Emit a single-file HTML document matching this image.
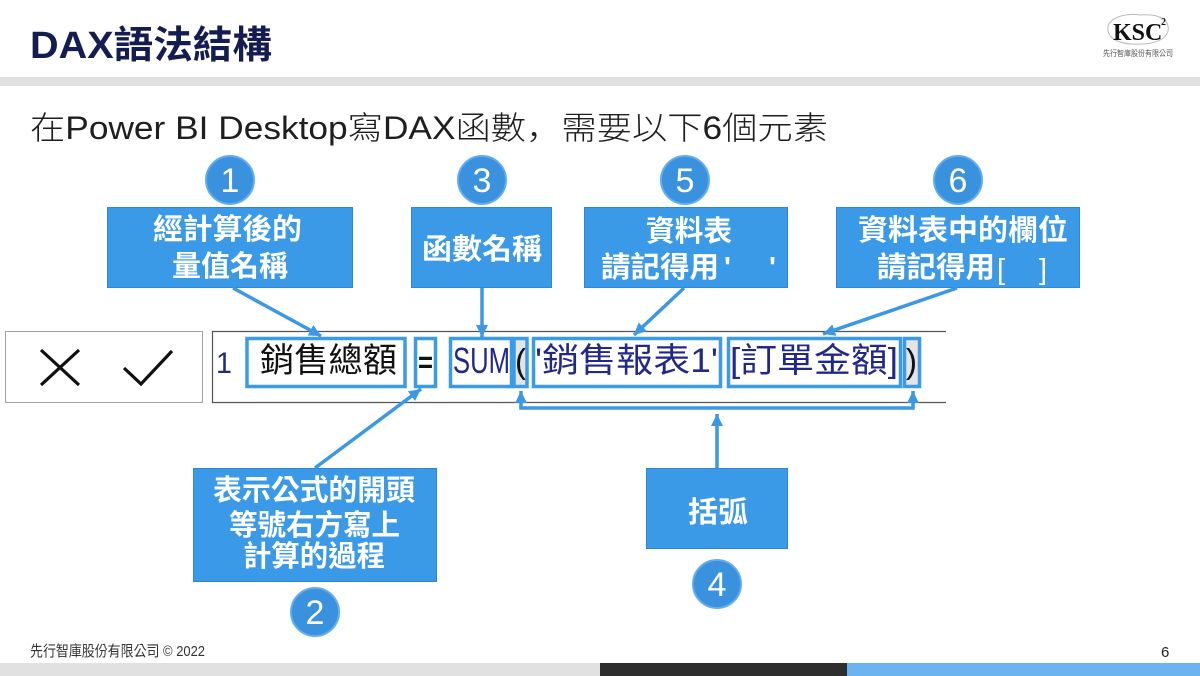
<!DOCTYPE html>
<html>
<head>
<meta charset="utf-8">
<style>
html,body{margin:0;padding:0;background:#fff;}
body{width:1200px;height:676px;overflow:hidden;}
svg{display:block;}
</style>
</head>
<body>
<svg width="1200" height="676" viewBox="0 0 1200 676" xmlns="http://www.w3.org/2000/svg">
<defs>
<marker id="ah" viewBox="0 0 12 12" refX="12" refY="6" markerWidth="12" markerHeight="12" markerUnits="userSpaceOnUse" orient="auto">
<path d="M0,0 L12,6 L0,12 z" fill="#3a98e6"/>
</marker>
</defs>
<rect x="0" y="0" width="1200" height="676" fill="#ffffff"/>

<!-- Header -->
<text x="30" y="58" font-family="Liberation Sans, 'Noto Sans CJK TC', sans-serif" font-size="38" font-weight="bold" fill="#131d52" textLength="242" lengthAdjust="spacingAndGlyphs">DAX語法結構</text>
<rect x="0" y="77" width="1200" height="9" fill="#e1e1e1"/>

<!-- Logo -->
<path d="M1108,26 C1112,16 1128,13 1140,15 C1152,14 1166,16 1168,26 C1170,36 1160,44 1140,44 C1122,45 1106,40 1108,26 z" fill="none" stroke="#bbbbbb" stroke-width="1"/>
<text x="1113" y="40" font-family="Liberation Serif, serif" font-size="24" font-weight="bold" fill="#111">KSC</text>
<text x="1161" y="25" font-family="Liberation Serif, serif" font-size="10" font-weight="bold" fill="#111">2</text>
<text x="1103" y="56" font-family="Liberation Sans, 'Noto Sans CJK TC', sans-serif" font-size="8" fill="#555" textLength="70" lengthAdjust="spacingAndGlyphs">先行智庫股份有限公司</text>

<!-- Subtitle -->
<text x="30" y="139" font-family="Liberation Sans, 'Noto Sans CJK TC', sans-serif" font-size="32" font-weight="300" fill="#1e1e1e" textLength="798" lengthAdjust="spacingAndGlyphs">在Power BI Desktop寫DAX函數<tspan font-family="'Noto Sans CJK JP', sans-serif">，</tspan>需要以下6個元素</text>

<!-- Circles -->
<g font-family="Liberation Sans, sans-serif" font-size="34" fill="#fff" text-anchor="middle">
<circle cx="230" cy="180" r="24" fill="#3a92df" stroke="#62adf0" stroke-width="2"/>
<text x="230" y="192">1</text>
<circle cx="482" cy="180" r="24" fill="#3a92df" stroke="#62adf0" stroke-width="2"/>
<text x="482" y="192">3</text>
<circle cx="685" cy="180" r="24" fill="#3a92df" stroke="#62adf0" stroke-width="2"/>
<text x="685" y="192">5</text>
<circle cx="958" cy="180" r="24" fill="#3a92df" stroke="#62adf0" stroke-width="2"/>
<text x="958" y="192">6</text>
<circle cx="315" cy="612" r="24" fill="#3a92df" stroke="#62adf0" stroke-width="2"/>
<text x="315" y="624">2</text>
<circle cx="717" cy="584" r="24" fill="#3a92df" stroke="#62adf0" stroke-width="2"/>
<text x="717" y="596">4</text>
</g>

<!-- Callout boxes -->
<g fill="#3b9ae8" stroke="#2f88d6" stroke-width="1">
<rect x="107.5" y="207.5" width="245" height="80"/>
<rect x="411.5" y="207.5" width="140" height="80"/>
<rect x="584.5" y="207.5" width="203" height="80"/>
<rect x="836.5" y="207.5" width="243" height="80"/>
<rect x="193.5" y="468.5" width="243" height="113"/>
<rect x="646.5" y="468.5" width="141" height="80"/>
</g>

<g font-family="Liberation Sans, 'Noto Sans CJK TC', sans-serif" font-size="29" font-weight="bold" fill="#fff">
<text x="153" y="239" textLength="149" lengthAdjust="spacingAndGlyphs">經計算後的</text>
<text x="172" y="276" textLength="116" lengthAdjust="spacingAndGlyphs">量值名稱</text>
<text x="422" y="259" textLength="120" lengthAdjust="spacingAndGlyphs">函數名稱</text>
<text x="646" y="241" textLength="86" lengthAdjust="spacingAndGlyphs">資料表</text>
<text x="601" y="277" textLength="118" lengthAdjust="spacingAndGlyphs">請記得用</text>
<text x="724" y="277">'</text>
<text x="769" y="277">'</text>
<text x="858" y="240" textLength="210" lengthAdjust="spacingAndGlyphs">資料表中的欄位</text>
<text x="877" y="277" textLength="118" lengthAdjust="spacingAndGlyphs">請記得用</text>
<text x="997" y="279" font-weight="normal">[</text>
<text x="1039" y="279" font-weight="normal">]</text>
<text x="213" y="500" textLength="202" lengthAdjust="spacingAndGlyphs">表示公式的開頭</text>
<text x="229" y="535" textLength="171" lengthAdjust="spacingAndGlyphs">等號右方寫上</text>
<text x="243" y="566" textLength="142" lengthAdjust="spacingAndGlyphs">計算的過程</text>
<text x="688" y="522" textLength="60" lengthAdjust="spacingAndGlyphs">括弧</text>
</g>

<!-- Formula bar -->
<rect x="5.5" y="331.5" width="197" height="71" fill="#fff" stroke="#a0a0a0" stroke-width="1"/>
<path d="M41,350 L79,385 M79,350 L41,385" stroke="#111" stroke-width="3.2" fill="none"/>
<path d="M124,368 L141,384 L172,351" stroke="#111" stroke-width="3.2" fill="none"/>
<path d="M946,331.5 L212.5,331.5 L212.5,402.5 L946,402.5" stroke="#555" stroke-width="1.2" fill="none"/>

<!-- Bracket highlight fills -->
<rect x="514" y="338.5" width="13" height="48" fill="#e4e4e4"/>
<rect x="904.5" y="338.5" width="15" height="48" fill="#e4e4e4"/>

<!-- Formula text -->
<g font-family="Liberation Sans, 'Noto Sans CJK TC', sans-serif">
<text x="216" y="373" font-size="30" fill="#1f2a7a" textLength="16" lengthAdjust="spacingAndGlyphs">1</text>
<text x="260" y="372" font-size="34" fill="#111" textLength="137" lengthAdjust="spacingAndGlyphs">銷售總額</text>
<text x="418" y="372" font-size="30" font-weight="bold" fill="#111" textLength="15" lengthAdjust="spacingAndGlyphs">=</text>
<text x="453" y="373" font-size="36" fill="#22288a" textLength="57" lengthAdjust="spacingAndGlyphs">SUM</text>
<text x="515" y="373" font-size="34" fill="#111" textLength="11" lengthAdjust="spacingAndGlyphs">(</text>
<text x="535" y="372" font-size="34" fill="#22288a" textLength="183" lengthAdjust="spacingAndGlyphs">'銷售報表1'</text>
<text x="730" y="372" font-size="34" fill="#22288a" textLength="168" lengthAdjust="spacingAndGlyphs">[訂單金額]</text>
<text x="906" y="373" font-size="34" fill="#111" textLength="11" lengthAdjust="spacingAndGlyphs">)</text>
</g>

<!-- Highlight outlines -->
<g fill="none" stroke="#3a9be8" stroke-width="3.5">
<rect x="247" y="338.5" width="158" height="48"/>
<rect x="415.5" y="338.5" width="20" height="48"/>
<rect x="450.5" y="338.5" width="61" height="48"/>
<rect x="514" y="338.5" width="13" height="48"/>
<rect x="533.5" y="338.5" width="187" height="48"/>
<rect x="728.5" y="338.5" width="172" height="48"/>
<rect x="904.5" y="338.5" width="15" height="48"/>
</g>

<!-- Arrows -->
<g stroke="#3a98e6" stroke-width="3.5" fill="none">
<line x1="233" y1="288" x2="321" y2="336" marker-end="url(#ah)"/>
<line x1="482" y1="288" x2="482" y2="337" marker-end="url(#ah)"/>
<line x1="684" y1="288" x2="634" y2="335" marker-end="url(#ah)"/>
<line x1="957" y1="288" x2="823" y2="334" marker-end="url(#ah)"/>
<line x1="315" y1="468" x2="421" y2="389" marker-end="url(#ah)"/>
<line x1="717" y1="468" x2="717" y2="414" marker-end="url(#ah)"/>
<line x1="521" y1="408" x2="521" y2="391" marker-end="url(#ah)"/>
<line x1="913" y1="408" x2="913" y2="391" marker-end="url(#ah)"/>
<line x1="519.25" y1="408" x2="914.75" y2="408"/>
</g>

<!-- Footer -->
<text x="30" y="656" font-family="Liberation Sans, 'Noto Sans CJK TC', sans-serif" font-size="15" fill="#333" textLength="175" lengthAdjust="spacingAndGlyphs">先行智庫股份有限公司 © 2022</text>
<text x="1161" y="657" font-family="Liberation Sans, sans-serif" font-size="15" fill="#222">6</text>
<rect x="0" y="663" width="600" height="13" fill="#e1e1e1"/>
<rect x="600" y="663" width="247" height="13" fill="#2e2e2e"/>
<rect x="847" y="663" width="353" height="13" fill="#6cb4f0"/>
</svg>
</body>
</html>
